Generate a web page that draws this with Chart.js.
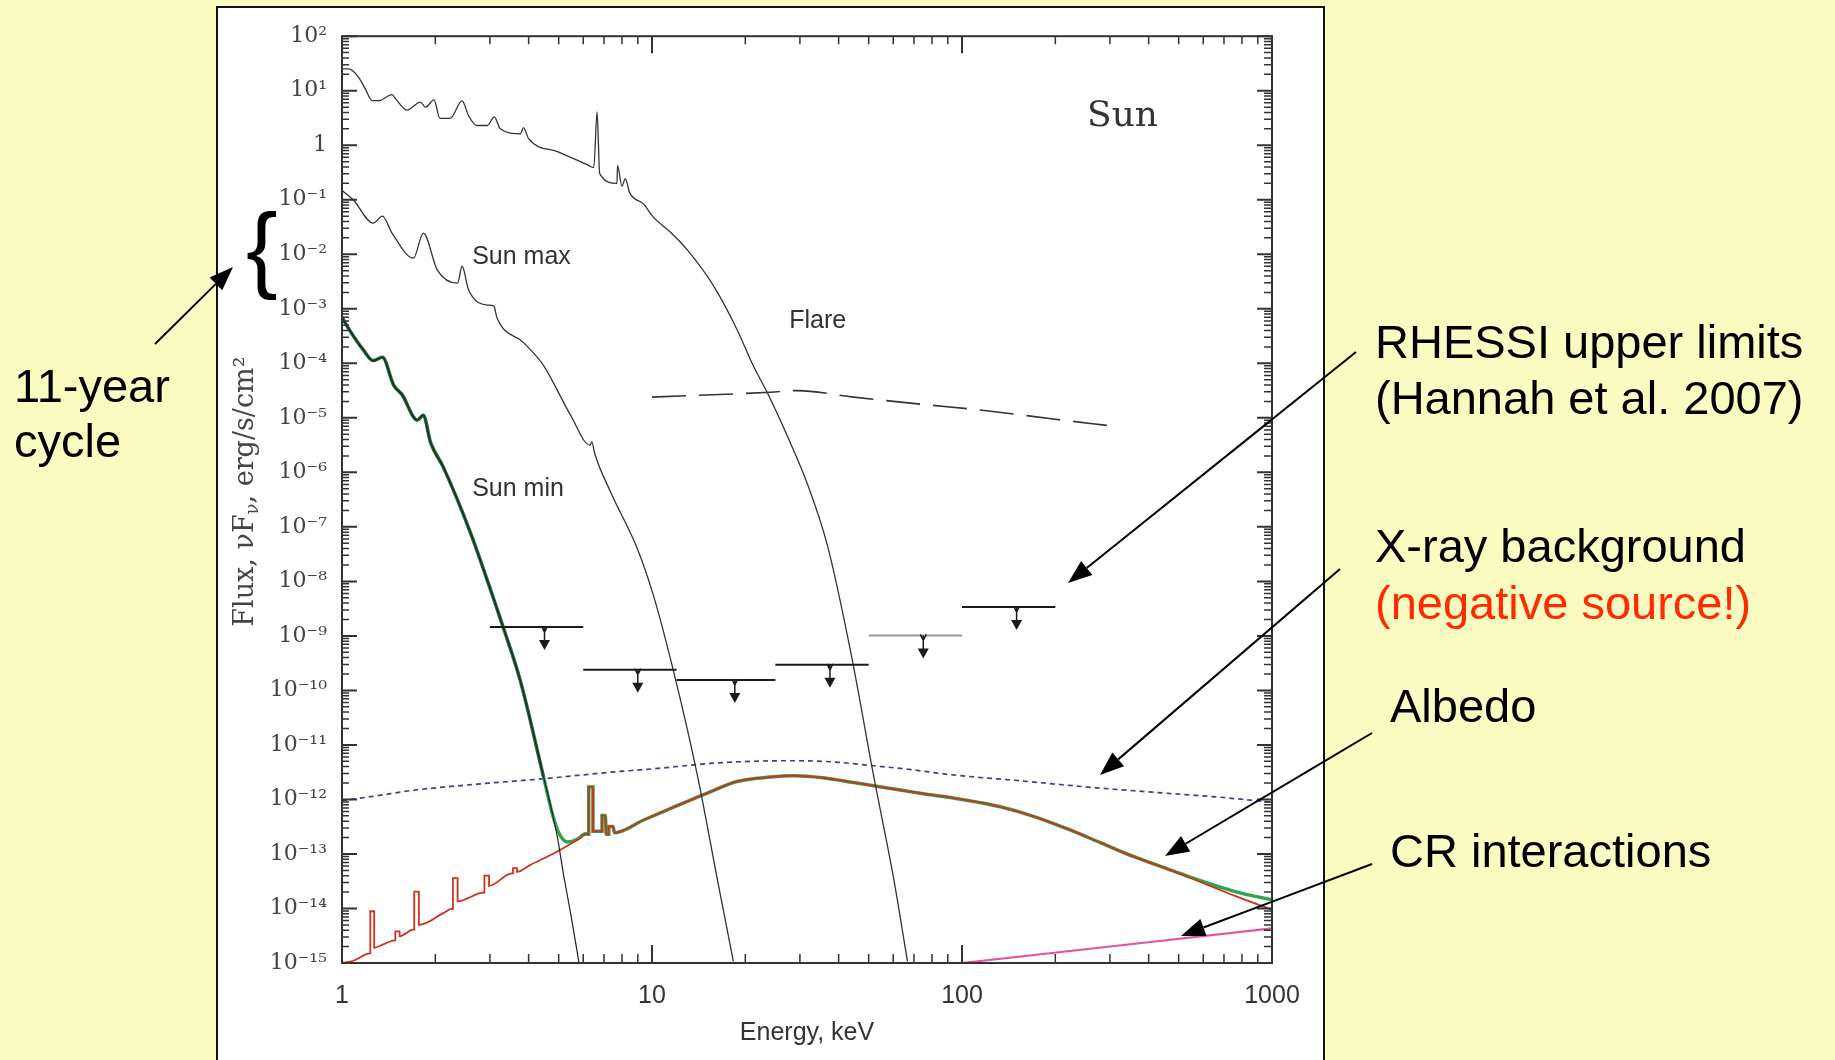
<!DOCTYPE html>
<html>
<head>
<meta charset="utf-8">
<script src="https://cdn.jsdelivr.net/npm/chart.js@4.4.1/dist/chart.umd.min.js"></script>
<style>
  html, body { margin: 0; padding: 0; }
  body { width: 1835px; height: 1060px; background: #f9fbc1; position: relative; overflow: hidden; }
  #box { position: absolute; left: 216px; top: 6px; width: 1105px; height: 1060px; border: 2px solid #111; border-bottom: none; background: #fff; }
  #chart { position: absolute; left: 0; top: 0; }
  #notes { position: absolute; left: 0; top: 0; pointer-events: none; }
  #notes text { font-family: "Liberation Sans", Arial, sans-serif; font-size: 47px; fill: #000; }
</style>
</head>
<body>
<div id="box"><canvas id="chart" width="1105" height="1052"></canvas></div>
<svg id="notes" width="1835" height="1060" xmlns="http://www.w3.org/2000/svg">
  <text x="14" y="402">11-year</text>
  <text x="14" y="457">cycle</text>
  <text x="246" y="280" style="font-size:95px">{</text>
  <text x="1375" y="358">RHESSI upper limits</text>
  <text x="1375" y="414">(Hannah et al. 2007)</text>
  <text x="1375" y="562">X-ray background</text>
  <text x="1375" y="619" style="fill:#ff2a00">(negative source!)</text>
  <text x="1390" y="722">Albedo</text>
  <text x="1390" y="867">CR interactions</text>
</svg>
<script>
// energies in keV, fluxes nuF_nu in erg/s/cm^2
const flareE = [1.00, 1.05, 1.13, 1.19, 1.25, 1.32, 1.45, 1.49, 1.62, 1.79, 1.86, 1.98, 2.07, 2.23, 2.44, 2.56, 2.72, 2.94, 3.10, 3.24, 3.76, 3.85, 4.00, 5.00, 6.20, 6.49, 6.65, 6.78, 7.71, 7.74, 8.00, 8.20, 8.47, 9.40, 10.1, 11.5, 13.0, 15.8, 18.8, 21.2, 23.6, 27.3, 31.7, 36.8, 43.7, 51.8, 60.1, 66.7]
const flareF = [25.1, 25.1, 17.8, 10.7, 6.6, 6.6, 8.5, 7.1, 4.4, 6.2, 5.0, 6.8, 3.1, 3.1, 6.5, 3.5, 2.3, 2.3, 3.3, 2.0, 1.62, 2.1, 1.32, 0.75, 0.436, 0.389, 4.07, 0.302, 0.200, 0.427, 0.178, 0.245, 0.135, 0.083, 0.0479, 0.0251, 0.0120, 2.63e-3, 4.17e-4, 9.1e-5, 2.82e-5, 4.68e-6, 6.17e-7, 4.57e-8, 5.25e-10, 2.82e-12, 3.72e-14, 1.07e-15]

const sunMaxE = [1.00, 1.09, 1.26, 1.35, 1.45, 1.70, 1.83, 2.03, 2.36, 2.44, 2.56, 2.94, 3.09, 3.16, 3.85, 4.47, 5.46, 6.31, 6.40, 6.53, 7.35, 8.97, 10.1, 11.7, 14.0, 16.2, 18.3]
const sunMaxF = [0.148, 0.0977, 0.0372, 0.0501, 0.0245, 8.5e-3, 0.0245, 5.13e-3, 2.95e-3, 6.03e-3, 2.24e-3, 1.17e-3, 1.12e-3, 6.9e-4, 2.40e-4, 9.1e-5, 1.12e-5, 3.16e-6, 3.63e-6, 2.24e-6, 4.37e-7, 3.98e-8, 5.6e-9, 2.40e-10, 2.82e-12, 3.72e-14, 1.07e-15]

const sunMinE = [1.00, 1.06, 1.17, 1.26, 1.35, 1.47, 1.56, 1.75, 1.83, 1.93, 2.12, 2.59, 3.08, 3.32, 3.76, 4.47, 4.94, 5.19, 5.50, 5.815]
const sunMinF = [6.92e-4, 3.98e-4, 1.78e-4, 1.12e-4, 1.29e-4, 3.89e-5, 2.69e-5, 9.1e-6, 1.12e-5, 3.55e-6, 1.26e-6, 8.1e-8, 4.9e-9, 1.38e-9, 1.51e-10, 2.57e-12, 2.19e-13, 4.02e-14, 6.6e-15, 1.0e-15]

const albedoE = [1.00, 1.09, 1.23, 1.234, 1.234, 1.27, 1.27, 1.36, 1.48, 1.486, 1.486, 1.534, 1.534, 1.70, 1.71, 1.71, 1.77, 1.77, 2.13, 2.26, 2.28, 2.28, 2.36, 2.36, 2.86, 2.88, 2.88, 2.98, 2.98, 3.53, 3.56, 3.56, 3.67, 3.67, 4.05, 4.94, 5.73, 6.17, 6.25, 6.25, 6.45, 6.45, 6.84, 6.90, 6.90, 7.07, 7.12, 7.25, 7.25, 7.49, 7.56, 9.4, 12.0, 15.4, 18.8, 24.0, 28.8, 35.5, 44.7, 57.5, 74.1, 100, 132, 170, 219, 282, 355, 457, 525, 661, 759, 1000]
const albedoF = [1.0e-15, 1.1e-15, 1.5e-15, 1.5e-15, 8.9e-15, 8.9e-15, 1.9e-15, 2.2e-15, 2.6e-15, 2.6e-15, 3.8e-15, 3.8e-15, 3.1e-15, 4.1e-15, 4.1e-15, 2.04e-14, 2.04e-14, 5.0e-15, 8.3e-15, 9.8e-15, 9.8e-15, 3.6e-14, 3.6e-14, 1.35e-14, 1.95e-14, 1.95e-14, 4.0e-14, 4.0e-14, 2.6e-14, 4.4e-14, 4.4e-14, 5.5e-14, 5.5e-14, 4.7e-14, 6.3e-14, 1.1e-13, 1.8e-13, 2.3e-13, 2.3e-13, 1.7e-12, 1.7e-12, 2.6e-13, 2.6e-13, 2.6e-13, 5.1e-13, 5.1e-13, 2.3e-13, 2.3e-13, 3.2e-13, 3.2e-13, 2.45e-13, 4.2e-13, 7.6e-13, 1.38e-12, 2.14e-12, 2.57e-12, 2.72e-12, 2.5e-12, 2.04e-12, 1.62e-12, 1.29e-12, 1.0e-12, 7.4e-13, 4.9e-13, 2.88e-13, 1.58e-13, 9.1e-14, 5.4e-14, 3.98e-14, 2.34e-14, 1.70e-14, 9.5e-15]

// green total: leaves the Sun min curve, rides on the albedo, then CR lifts it at the end
const totalHeadE = [4.79, 5.01, 5.33, 5.74, 6.10]
const totalHeadF = [5.0e-13, 2.40e-13, 1.66e-13, 1.86e-13, 2.34e-13]
const totalTailE = [525, 661, 794, 1000]
const totalTailF = [4.05e-14, 2.60e-14, 1.91e-14, 1.45e-14]

const cxbE = [1.00, 1.30, 1.66, 2.73, 4.47, 7.35, 10.0, 15.4, 20.9, 28.2, 38.0, 51.3, 67.6, 93.3, 155, 251, 417, 676, 1000]
const cxbF = [9.5e-13, 1.17e-12, 1.45e-12, 1.91e-12, 2.40e-12, 3.16e-12, 3.63e-12, 4.57e-12, 5.0e-12, 5.13e-12, 4.9e-12, 4.17e-12, 3.55e-12, 2.82e-12, 2.19e-12, 1.70e-12, 1.35e-12, 1.10e-12, 8.9e-13]

const longDashE = [10.0, 24.1, 29.4, 44.7, 73.5, 120, 197, 297]
const longDashF = [2.40e-5, 2.95e-5, 3.16e-5, 2.40e-5, 1.78e-5, 1.35e-5, 9.5e-6, 7.2e-6]

const crE = [100, 1000]
const crF = [1.0e-15, 4.3e-15]

// RHESSI upper limits
const limLo = [3, 6, 12, 25, 50, 100]
const limHi = [6, 12, 25, 50, 100, 200]
const limFlux = [1.45e-9, 2.40e-10, 1.55e-10, 2.95e-10, 1.02e-9, 3.39e-9]
const limArrowE = [4.5, 9, 18.5, 37.5, 75, 150]

const xTickValues = [1, 10, 100, 1000]
const xTickLabels = ['1', '10', '100', '1000']
const yTickValues = [1e2, 1e1, 1, 1e-1, 1e-2, 1e-3, 1e-4, 1e-5, 1e-6, 1e-7, 1e-8, 1e-9, 1e-10, 1e-11, 1e-12, 1e-13, 1e-14, 1e-15]
const yTickLabels = ['10²', '10¹', '1', '10⁻¹', '10⁻²', '10⁻³', '10⁻⁴', '10⁻⁵', '10⁻⁶', '10⁻⁷', '10⁻⁸', '10⁻⁹', '10⁻¹⁰', '10⁻¹¹', '10⁻¹²', '10⁻¹³', '10⁻¹⁴', '10⁻¹⁵']

const curveNotes = [
    { text: 'Sun max', e: 2.63, f: 6.5e-3, font: '25px "Liberation Sans", Arial' },
    { text: 'Sun min', e: 2.63, f: 3.63e-7, font: '25px "Liberation Sans", Arial' },
    { text: 'Flare', e: 27.7, f: 4.4e-4, font: '25px "Liberation Sans", Arial' },
    { text: 'Sun', e: 253, f: 2.28, font: '36px "DejaVu Serif", serif' }
]

function pts(xs, ys) {
    return xs.map((x, i) => ({ x: x, y: ys[i] }))
}

function isDecade(v) {
    const l = Math.log10(v)
    return Math.abs(l - Math.round(l)) < 1e-6
}

function labelFor(value, vals, labels) {
    const i = vals.findIndex(v => Math.abs(Math.log10(v) - Math.log10(value)) < 1e-6)
    return i >= 0 ? labels[i] : ''
}

function withMinor(lo, hi) {
    const out = []
    for (let d = lo; d < hi; d++) {
        for (let m = 1; m < 10; m++) out.push(m * Math.pow(10, d))
    }
    out.push(Math.pow(10, hi))
    return out
}

const xAllTicks = withMinor(0, 3)
const yAllTicks = withMinor(-15, 2)

const totalPts = pts(sunMinE, sunMinF).filter(p => p.x <= 4.5)
    .concat(pts(totalHeadE, totalHeadF))
    .concat(pts(albedoE, albedoF).filter(p => p.x > 6.2 && p.x < 460))
    .concat(pts(totalTailE, totalTailF))

const frame = {
    id: 'frame',
    afterDatasetsDraw(chart) {
        const { ctx, chartArea: a, scales: { x, y } } = chart
        ctx.save()
        ctx.strokeStyle = '#333'
        ctx.lineCap = 'butt'
        x.ticks.forEach(t => {
            const px = x.getPixelForValue(t.value)
            const major = isDecade(t.value)
            ctx.lineWidth = major ? 2 : 1.5
            ctx.beginPath()
            ctx.moveTo(px, a.bottom); ctx.lineTo(px, a.bottom - (major ? 18 : 9))
            ctx.moveTo(px, a.top); ctx.lineTo(px, a.top + (major ? 17 : 8))
            ctx.stroke()
        })
        y.ticks.forEach(t => {
            const py = y.getPixelForValue(t.value)
            const major = isDecade(t.value)
            ctx.lineWidth = major ? 2 : 1.5
            ctx.beginPath()
            ctx.moveTo(a.left, py); ctx.lineTo(a.left + (major ? 15 : 7), py)
            ctx.moveTo(a.right, py); ctx.lineTo(a.right - (major ? 15 : 8), py)
            ctx.stroke()
        })
        ctx.lineWidth = 2
        ctx.strokeRect(a.left, a.top, a.right - a.left, a.bottom - a.top)

        // upper limits
        limFlux.forEach((f, i) => {
            const x1 = x.getPixelForValue(limLo[i])
            const x2 = x.getPixelForValue(limHi[i])
            const xm = x.getPixelForValue(limArrowE[i])
            const py = y.getPixelForValue(f)
            ctx.strokeStyle = i === 4 ? '#9a9a9a' : '#1a1a1a'
            ctx.fillStyle = '#1a1a1a'
            ctx.lineWidth = 2
            ctx.beginPath()
            ctx.moveTo(x1, py); ctx.lineTo(x2, py)
            ctx.stroke()
            ctx.strokeStyle = '#1a1a1a'
            ctx.lineWidth = 1.5
            ctx.beginPath()
            ctx.moveTo(xm - 3, py - 1); ctx.lineTo(xm, py + 5); ctx.lineTo(xm + 3, py - 1)
            ctx.moveTo(xm, py); ctx.lineTo(xm, py + 15)
            ctx.stroke()
            ctx.beginPath()
            ctx.moveTo(xm - 5.5, py + 13); ctx.lineTo(xm + 5.5, py + 13); ctx.lineTo(xm, py + 23)
            ctx.closePath()
            ctx.fill()
        })
        ctx.restore()
    }
}

const notesPlugin = {
    id: 'curveNotes',
    afterDraw(chart) {
        const { ctx, scales: { x, y } } = chart
        ctx.save()
        ctx.fillStyle = '#333'
        ctx.textAlign = 'left'
        ctx.textBaseline = 'alphabetic'
        curveNotes.forEach(n => {
            ctx.font = n.font
            ctx.fillText(n.text, x.getPixelForValue(n.e), y.getPixelForValue(n.f))
        })

        // y axis title with a subscript nu
        const parts = [['Flux, νF', 27, 0], ['ν', 18, 5], [', erg/s/cm²', 27, 0]]
        let total = 0
        parts.forEach(p => {
            ctx.font = p[1] + 'px "DejaVu Serif", serif'
            total += ctx.measureText(p[0]).width
        })
        const a = chart.chartArea
        ctx.translate(35, (a.top + a.bottom) / 2 - 8)
        ctx.rotate(-Math.PI / 2)
        ctx.fillStyle = '#444'
        let cx = -total / 2
        parts.forEach(p => {
            ctx.font = p[1] + 'px "DejaVu Serif", serif'
            ctx.fillText(p[0], cx, p[2])
            cx += ctx.measureText(p[0]).width
        })
        ctx.restore()
    }
}

const line = (label, data, color, width, order, extra) => Object.assign({
    label: label,
    data: data,
    borderColor: color,
    borderWidth: width,
    pointRadius: 0,
    fill: false,
    cubicInterpolationMode: 'monotone',
    order: order
}, extra || {})

new Chart(document.getElementById('chart'), {
    type: 'line',
    data: {
        datasets: [
            line('RHESSI flare', pts(longDashE, longDashF), '#333', 1.6, 1, { borderDash: [34, 13] }),
            line('Flare', pts(flareE, flareF), '#333', 1.3, 1),
            line('Sun max', pts(sunMaxE, sunMaxF), '#333', 1.3, 1),
            line('Sun min', pts(sunMinE, sunMinF), '#222', 1.2, 1),
            line('Albedo', pts(albedoE, albedoF), '#d2301f', 1.8, 2),
            line('CR interactions', pts(crE, crF), '#e2559b', 2.2, 2),
            line('Total', totalPts, '#2ea44f', 3.5, 3, {
                segment: { borderColor: c => c.p0.parsed.x < 4 ? '#1e6b34' : '#2ea44f' }
            }),
            line('X-ray background', pts(cxbE, cxbF), '#3f3f8f', 1.7, 4, { borderDash: [5, 4] })
        ]
    },
    options: {
        responsive: false,
        animation: false,
        devicePixelRatio: 1,
        events: [],
        layout: { padding: { left: 0, right: 51, top: 24, bottom: 0 } },
        plugins: { legend: { display: false }, tooltip: { enabled: false } },
        scales: {
            x: {
                type: 'logarithmic',
                min: 1,
                max: 1000,
                grid: { display: false, drawTicks: false },
                border: { display: false },
                afterBuildTicks: s => { s.ticks = xAllTicks.map(v => ({ value: v })) },
                afterFit: s => { s.height = 97 },
                ticks: {
                    autoSkip: false,
                    maxRotation: 0,
                    padding: 18,
                    color: '#333',
                    font: { family: '"Liberation Sans", Arial', size: 25 },
                    callback: v => labelFor(v, xTickValues, xTickLabels)
                },
                title: {
                    display: true,
                    text: 'Energy, keV',
                    color: '#333',
                    font: { family: '"Liberation Sans", Arial', size: 25 },
                    padding: { top: 0, bottom: 12 }
                }
            },
            y: {
                type: 'logarithmic',
                min: 1e-15,
                max: 1e2,
                grid: { display: false, drawTicks: false },
                border: { display: false },
                afterBuildTicks: s => { s.ticks = yAllTicks.map(v => ({ value: v })) },
                afterFit: s => { s.width = 124 },
                ticks: {
                    autoSkip: false,
                    padding: 15,
                    color: '#444',
                    font: { family: '"DejaVu Serif", serif', size: 22 },
                    callback: v => labelFor(v, yTickValues, yTickLabels)
                }
            }
        }
    },
    plugins: [frame, notesPlugin]
})

// annotation pointers on the slide
const svg = document.getElementById('notes')
const pointers = [
    [155, 344, 233, 267],
    [1356, 352, 1068, 583],
    [1340, 569, 1100, 775],
    [1372, 733, 1165, 856],
    [1372, 864, 1181, 936]
]
pointers.forEach(([x1, y1, x2, y2]) => {
    const ang = Math.atan2(y2 - y1, x2 - x1)
    const L = 24, W = 9
    const bx = x2 - L * Math.cos(ang), by = y2 - L * Math.sin(ang)
    const nx = -Math.sin(ang) * W, ny = Math.cos(ang) * W
    const ln = document.createElementNS('http://www.w3.org/2000/svg', 'line')
    ln.setAttribute('x1', x1); ln.setAttribute('y1', y1)
    ln.setAttribute('x2', bx); ln.setAttribute('y2', by)
    ln.setAttribute('stroke', '#000'); ln.setAttribute('stroke-width', 2)
    svg.appendChild(ln)
    const head = document.createElementNS('http://www.w3.org/2000/svg', 'polygon')
    head.setAttribute('points', `${x2},${y2} ${bx + nx},${by + ny} ${bx - nx},${by - ny}`)
    head.setAttribute('fill', '#000')
    svg.appendChild(head)
})
</script>
</body>
</html>
